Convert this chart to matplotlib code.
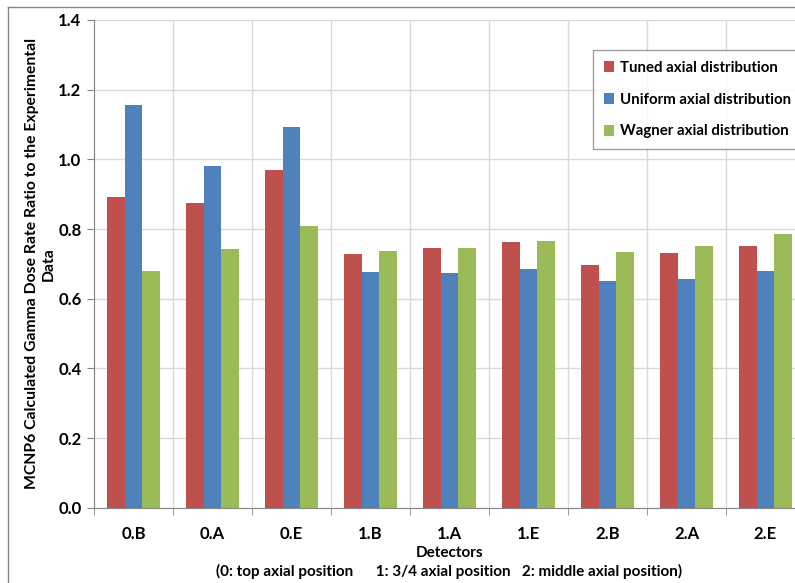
import numpy as np
import matplotlib
matplotlib.use("Agg")
import matplotlib.pyplot as plt
from matplotlib.lines import Line2D

# data
detectors = ["0.B", "0.A", "0.E", "1.B", "1.A", "1.E", "2.B", "2.A", "2.E"]
tuned = [0.892, 0.876, 0.969, 0.728, 0.745, 0.763, 0.697, 0.730, 0.752]
uniform = [1.156, 0.981, 1.094, 0.678, 0.674, 0.686, 0.652, 0.656, 0.679]
wagner = [0.680, 0.743, 0.809, 0.737, 0.745, 0.766, 0.735, 0.752, 0.785]
series = ["Tuned axial distribution", "Uniform axial distribution", "Wagner axial distribution"]
colors = ["#C0504D", "#4F81BD", "#9BBB59"]

plt.rcParams["font.family"] = ["Lato", "DejaVu Sans"]
plt.rcParams["font.weight"] = "bold"

W, H = 795, 583
fig = plt.figure(figsize=(W / 100, H / 100), dpi=100)
# область графика в пикселях: x 94..805 (правый край обрезан), y 20..508
ax = fig.add_axes([94 / W, (H - 507.7) / H, (805 - 94) / W, (507.7 - 20) / H])

x = np.arange(len(detectors))
w = 0.223
for i, (vals, lab) in enumerate(zip([tuned, uniform, wagner], series)):
    ax.bar(x + (i - 1) * w, vals, width=w, color=colors[i], label=lab, zorder=3)

ax.set_xlim(-0.5, len(detectors) - 0.5)
ax.set_ylim(0, 1.4)
ax.set_yticks(np.arange(0, 1.41, 0.2))
ax.set_yticklabels([f"{v:.1f}" for v in np.arange(0, 1.41, 0.2)])
ax.set_xticks(x)
ax.set_xticklabels(detectors)
ax.set_xticks(np.arange(-0.5, len(detectors)), minor=True)

ax.tick_params(axis="x", which="major", length=0, pad=13, labelsize=12)
ax.tick_params(axis="x", which="minor", length=5, color="#868686", direction="out")
ax.tick_params(axis="y", length=5, color="#868686", labelsize=12, pad=4)

ax.grid(axis="y", color="#d9d9d9", linewidth=1, zorder=0)
ax.grid(axis="x", which="minor", color="#d9d9d9", linewidth=1, zorder=0)
for s in ["top", "right"]:
    ax.spines[s].set_visible(False)
for s in ["left", "bottom"]:
    ax.spines[s].set_color("#868686")

ax.set_ylabel("MCNP6 Calculated Gamma Dose Rate Ratio to the Experimental\nData",
              fontsize=11.3, fontweight="bold", labelpad=2, linespacing=1.25)
ax.set_xlabel("Detectors\n(0: top axial position      1: 3/4 axial position   2: middle axial position)",
              fontsize=11, fontweight="bold", labelpad=3, linespacing=1.35)

leg = ax.legend(loc="upper left", bbox_to_anchor=(593 / W, 1 - 50 / H),
                bbox_transform=fig.transFigure, fontsize=10.8, frameon=True,
                fancybox=False, edgecolor="#868686", handlelength=0.7,
                handleheight=0.7, handletextpad=0.4, labelspacing=1.2,
                borderpad=0.7, borderaxespad=0)
leg.get_frame().set_linewidth(1)

# рамка всей диаграммы
fig.add_artist(Line2D([8 / W, 1], [1 - 6.5 / H, 1 - 6.5 / H], color="#868686", lw=1))
fig.add_artist(Line2D([8 / W, 8 / W], [0, 1 - 6.5 / H], color="#868686", lw=1))

fig.savefig("out.png", dpi=100)
